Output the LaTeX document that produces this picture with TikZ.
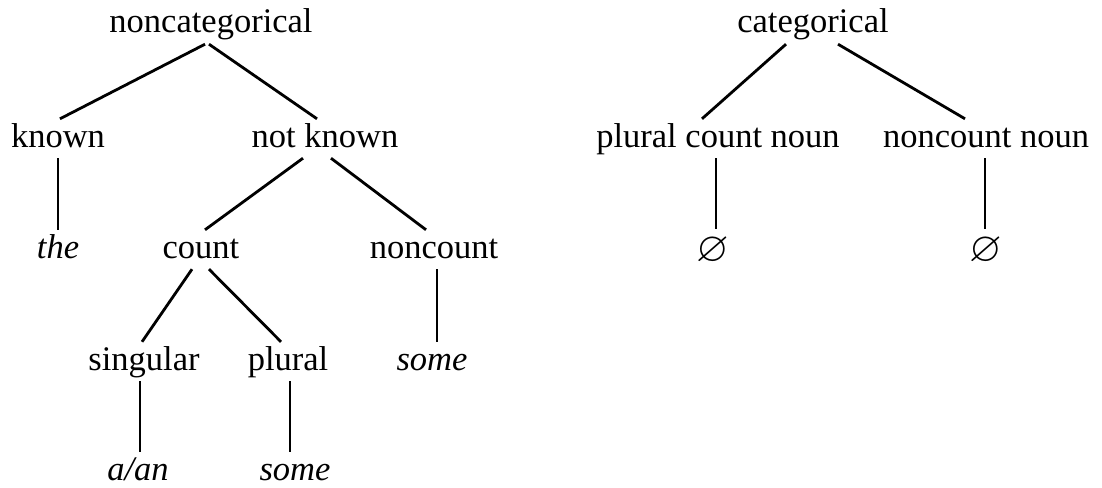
\documentclass[tikz,border=0pt]{standalone}
\usepackage{amsmath,amssymb}
\usepackage{fontspec}
\setmainfont{Liberation Serif}
\usetikzlibrary{calc}

\begin{document}
\begin{tikzpicture}[x=1pt,y=-1pt,
  word/.style={anchor=base,inner sep=0pt,text height=28pt,text depth=11pt,
    font=\fontsize{34.5}{40}\selectfont},
  zero/.style={word,text height=32pt,font=\fontsize{42}{48}\selectfont},
  branch/.style={line width=2.8pt}]
  \useasboundingbox (0,0) rectangle (1102,487);

  % left tree (noncategorical)
  \node[word] (noncat) at (211,33) {noncategorical};
  \node[word] (known) at (58,147) {known};
  \node[word] (notKnown) at (325,147) {not known};
  \node[word] (the) at (58,258) {\textit{the}};
  \node[word] (count) at (201,258) {count};
  \node[word] (noncount) at (434,258) {noncount};
  \node[word] (singular) at (144,370) {singular};
  \node[word] (plural) at (288,370) {plural};
  \node[word] (someNc) at (432,370) {\textit{some}};
  \node[word] (aAn) at (138,480) {\textit{a/an}};
  \node[word] (somePl) at (295,480) {\textit{some}};

  % right tree (categorical)
  \node[word] (cat) at (813,33) {categorical};
  \node[word] (pcn) at (718,147) {plural count noun};
  \node[word] (ncn) at (986,147) {noncount noun};
  \node[zero] (zeroA) at (713,261) {$\varnothing$};
  \node[zero] (zeroB) at (986,261) {$\varnothing$};

  % branches -- left
  \draw[branch] ([xshift=-6pt]noncat.south) -- ([xshift=2pt]known.north);
  \draw[branch] ([xshift=-2pt]noncat.south) -- ([xshift=-8pt]notKnown.north);
  \draw[branch] (known.south) -- (the.north);
  \draw[branch] ([xshift=-22pt]notKnown.south) -- ([xshift=4pt]count.north);
  \draw[branch] ([xshift=6pt]notKnown.south) -- ([xshift=-8pt]noncount.north);
  \draw[branch] ([xshift=-9pt]count.south) -- ([xshift=-2pt]singular.north);
  \draw[branch] ([xshift=8pt]count.south) -- ([xshift=-7pt]plural.north);
  \draw[branch] ([xshift=3pt]noncount.south) -- ([xshift=5pt]someNc.north);
  \draw[branch] ([xshift=-4pt]singular.south) -- ([xshift=2pt]aAn.north);
  \draw[branch] ([xshift=2pt]plural.south) -- ([xshift=-5pt]somePl.north);

  % branches -- right
  \draw[branch] ([xshift=-27pt]cat.south) -- ([xshift=-16pt]pcn.north);
  \draw[branch] ([xshift=25pt]cat.south) -- ([xshift=-21pt]ncn.north);
  \draw[branch] ([xshift=-2pt]pcn.south) -- ([xshift=3pt]zeroA.north);
  \draw[branch] ([xshift=-1pt]ncn.south) -- ([xshift=-1pt]zeroB.north);
\end{tikzpicture}
\end{document}
